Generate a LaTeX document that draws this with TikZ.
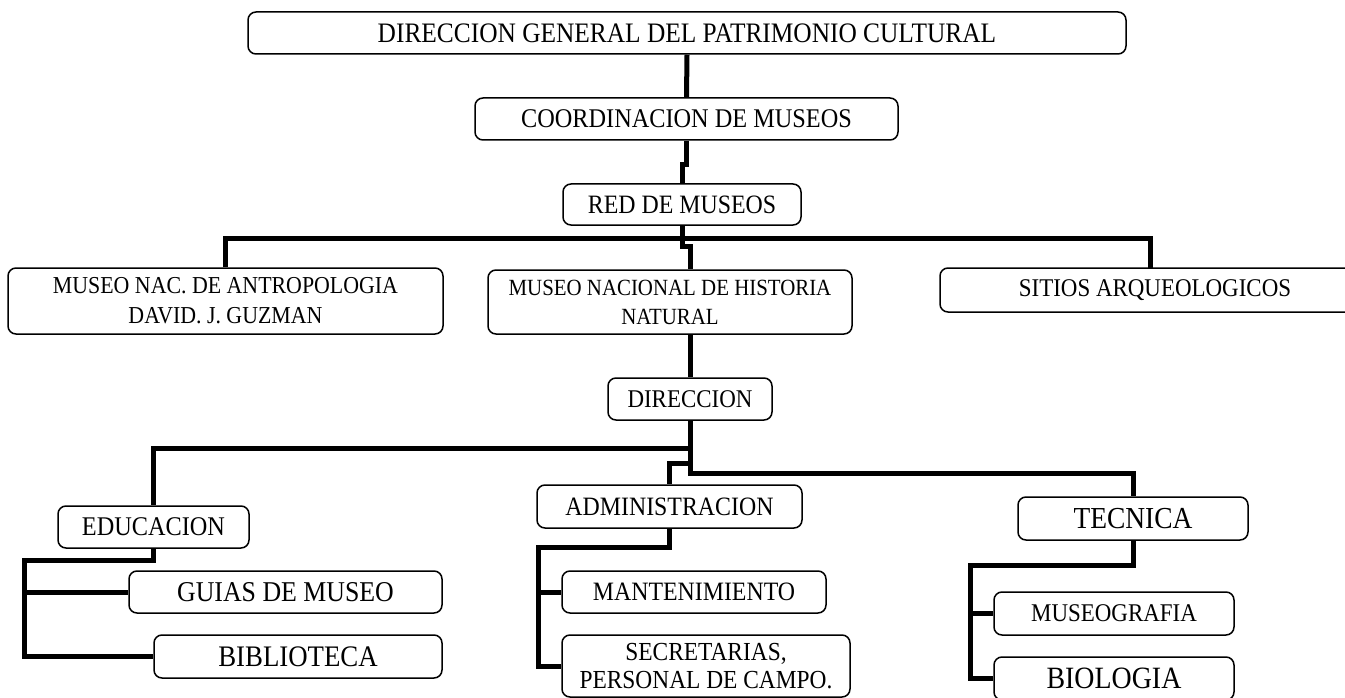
\documentclass[tikz,border=0pt]{standalone}
\usepackage{fontspec}
\setmainfont{Liberation Serif}[FakeStretch=0.9]
\begin{document}
\begin{tikzpicture}[x=1pt,y=-1pt,
  box/.style={draw=black,fill=white,line width=1.5pt,rounded corners=8pt,inner sep=0pt,align=center},
  conn/.style={line width=5pt,line join=miter,draw=black}]
\useasboundingbox (0,0) rectangle (1345,698);
\clip (0,0) rectangle (1345,698);
\fill[white] (0,0) rectangle (1345,698);
% nodes
\node[box,minimum width=878pt,minimum height=42pt,font=\fontsize{28.2}{30}\selectfont] (top) at (687,33) {DIRECCION GENERAL DEL PATRIMONIO CULTURAL};
\node[box,minimum width=423pt,minimum height=42pt,font=\fontsize{27}{30}\selectfont] (coord) at (686.5,119) {COORDINACION DE MUSEOS};
\node[box,minimum width=238pt,minimum height=41pt,font=\fontsize{26.5}{30}\selectfont] (red) at (682,204.5) {RED DE MUSEOS};
\node[box,minimum width=435pt,minimum height=66pt,font=\fontsize{24.3}{30}\selectfont] (antro) at (225.5,301) {MUSEO NAC. DE ANTROPOLOGIA\\DAVID. J. GUZMAN};
\node[box,minimum width=364pt,minimum height=64pt,font=\fontsize{23.2}{29}\selectfont] (mnhn) at (670,302) {MUSEO NACIONAL DE HISTORIA\\NATURAL};
\node[box,minimum width=430pt,minimum height=44pt,font=\fontsize{25.5}{28}\selectfont] (sitios) at (1155,290) {SITIOS ARQUEOLOGICOS};
\node[box,minimum width=164pt,minimum height=42pt,font=\fontsize{25.5}{28}\selectfont] (dir) at (690,399) {DIRECCION};
\node[box,minimum width=191pt,minimum height=42pt,font=\fontsize{27}{28}\selectfont] (educ) at (153.5,527) {EDUCACION};
\node[box,minimum width=313pt,minimum height=42pt,font=\fontsize{28.7}{30}\selectfont] (guias) at (285.5,592) {GUIAS DE MUSEO};
\node[box,minimum width=288pt,minimum height=43pt,font=\fontsize{29.8}{30}\selectfont] (biblio) at (298,656.5) {BIBLIOTECA};
\node[box,minimum width=265pt,minimum height=43pt,font=\fontsize{26.5}{28}\selectfont] (admin) at (669.5,506.5) {ADMINISTRACION};
\node[box,minimum width=264pt,minimum height=42pt,font=\fontsize{26.5}{28}\selectfont] (mant) at (694,592) {MANTENIMIENTO};
\node[box,minimum width=288pt,minimum height=62pt,font=\fontsize{26}{28}\selectfont] (secr) at (706,666) {SECRETARIAS,\\PERSONAL DE CAMPO.};
\node[box,minimum width=230pt,minimum height=43pt,font=\fontsize{30.5}{30}\selectfont] (tecn) at (1133,518.5) {TECNICA};
\node[box,minimum width=240pt,minimum height=43pt,font=\fontsize{25.5}{28}\selectfont] (museog) at (1114,613.5) {MUSEOGRAFIA};
\node[box,minimum width=240pt,minimum height=43pt,font=\fontsize{31}{30}\selectfont] (bio) at (1114,678.5) {BIOLOGIA};
% coordinates
\coordinate (eL) at (24,560);
\coordinate (aL) at (538,547);
\coordinate (tL) at (970,565);
% connectors
\draw[conn] (top.south) -- (coord.north);
\draw[conn] (coord.south) -- ++(0,24) -| (red.north);
\draw[conn] (red.south) -- ++(0,13) coordinate (b1);
\draw[conn] (antro.north) |- (b1) -| (1150,268);
\draw[conn] (b1) -- ++(0,8) -| ([xshift=20pt]mnhn.north);
\draw[conn] (dir.north |- mnhn.south) -- (dir.north);
\draw[conn] (dir.south) -- ++(0,28) coordinate (b2) -| (educ.north);
\draw[conn] (b2) -- ++(0,25) -| (tecn.north);
\draw[conn] (b2) -- ++(0,15) -| (admin.north);
\draw[conn] (educ.south) |- (eL) |- (biblio.west);
\draw[conn] (eL |- guias.west) -- (guias.west);
\draw[conn] (admin.south) |- (aL) |- (secr.west);
\draw[conn] (aL |- mant.west) -- (mant.west);
\draw[conn] (tecn.south) |- (tL) |- (bio.west);
\draw[conn] (tL |- museog.west) -- (museog.west);
\end{tikzpicture}
\end{document}
